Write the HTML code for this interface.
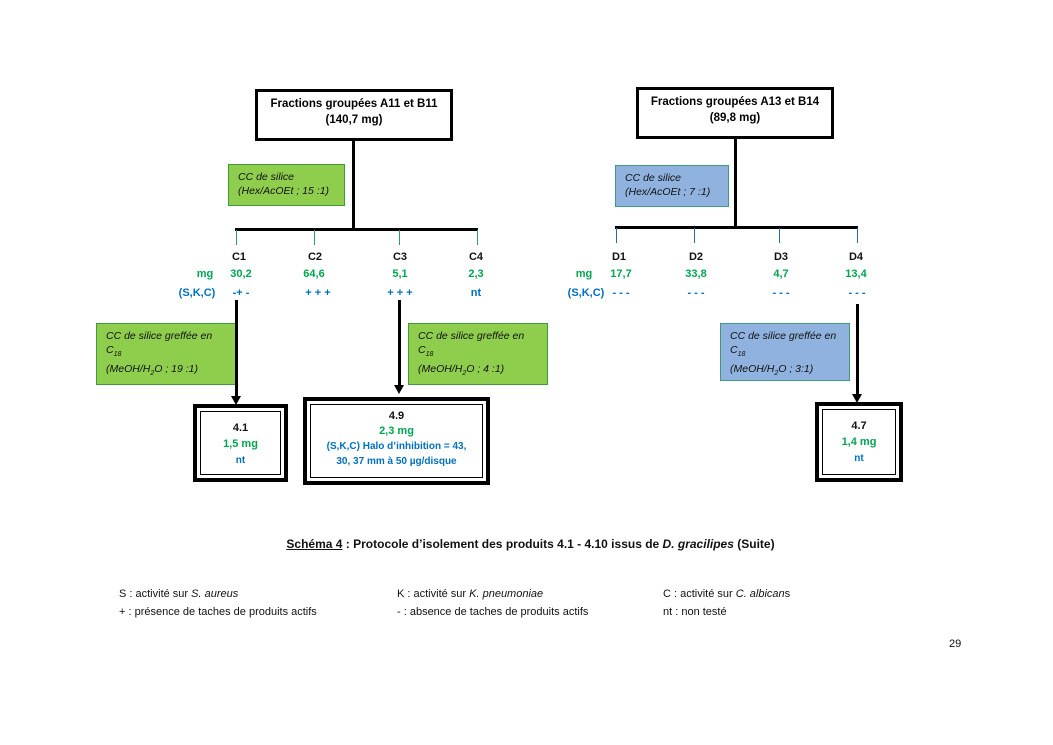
<!DOCTYPE html>
<html><head><meta charset="utf-8"><style>
body{margin:0;width:1053px;height:745px;background:#fff;position:relative;overflow:hidden;font-family:"Liberation Sans",sans-serif;}
div{position:absolute;box-sizing:border-box;}
.c{transform:translateX(-50%);white-space:nowrap;font-weight:bold;font-size:11px;text-align:center;}
.g{color:#00a650}.b{color:#0070c0}.k{color:#111}
.ln{background:#000}
.box{border:3px solid #000;background:#fff;font-weight:bold;font-size:11.5px;text-align:center;line-height:16px;padding-top:4px;}
.gr{background:#8fcd4d;border:1px solid #3e9a3a;font-style:italic;font-size:10.5px;line-height:14px;padding:5px 0 0 9px;color:#111;}
.bl{background:#8fb2de;border:1px solid #3e9a7a;font-style:italic;font-size:10.5px;line-height:14px;padding:5px 0 0 9px;color:#111;}
.dbl{border:4px solid #000;background:#fff;}
.dbl>div{inset:3px;border:1px solid #000;text-align:center;font-weight:bold;font-size:11px;line-height:16px;}
.arr{width:0;height:0;border-left:5px solid transparent;border-right:5px solid transparent;border-top:9px solid #000;}
.tk{width:1px;height:15px;}
sub{font-size:7px}
</style></head><body>
<!-- Left tree -->
<div class="box" style="left:255px;top:89px;width:198px;height:52px;">Fractions groupées A11 et B11<br>(140,7 mg)</div>
<div class="ln" style="left:352px;top:140px;width:3px;height:90px;"></div>
<div class="ln" style="left:235px;top:228px;width:243px;height:3px;"></div>
<div class="tk" style="left:236px;top:230px;background:#2a9a7a"></div>
<div class="tk" style="left:314px;top:230px;background:#2a9a7a"></div>
<div class="tk" style="left:399px;top:230px;background:#2a9a7a"></div>
<div class="tk" style="left:477px;top:230px;background:#2a9a7a"></div>
<div class="gr" style="left:228px;top:164px;width:117px;height:42px;">CC de silice<br>(Hex/AcOEt ; 15 :1)</div>
<div class="c k" style="left:239px;top:251px;">C1</div>
<div class="c k" style="left:315px;top:251px;">C2</div>
<div class="c k" style="left:400px;top:251px;">C3</div>
<div class="c k" style="left:476px;top:251px;">C4</div>
<div class="c g" style="left:205px;top:268px;">mg</div>
<div class="c g" style="left:241px;top:268px;">30,2</div>
<div class="c g" style="left:314px;top:268px;">64,6</div>
<div class="c g" style="left:400px;top:268px;">5,1</div>
<div class="c g" style="left:476px;top:268px;">2,3</div>
<div class="c b" style="left:197px;top:287px;">(S,K,C)</div>
<div class="c b" style="left:241px;top:287px;">-+ -</div>
<div class="c b" style="left:318px;top:287px;">+ + +</div>
<div class="c b" style="left:400px;top:287px;">+ + +</div>
<div class="c b" style="left:476px;top:287px;">nt</div>
<div class="gr" style="left:96px;top:323px;width:140px;height:62px;">CC de silice greffée en<br>C<sub>18</sub><br>(MeOH/H<sub>2</sub>O ; 19 :1)</div>
<div class="ln" style="left:235px;top:300px;width:3px;height:98px;"></div>
<div class="arr" style="left:231px;top:396px;"></div>
<div class="gr" style="left:408px;top:323px;width:140px;height:62px;">CC de silice greffée en<br>C<sub>18</sub><br>(MeOH/H<sub>2</sub>O ; 4 :1)</div>
<div class="ln" style="left:398px;top:300px;width:3px;height:86px;"></div>
<div class="arr" style="left:394px;top:385px;"></div>
<div class="dbl" style="left:193px;top:404px;width:95px;height:78px;"><div style="padding-top:8px"><span class="k">4.1</span><br><span class="g">1,5 mg</span><br><span class="b" style="font-size:10px">nt</span></div></div>
<div class="dbl" style="left:303px;top:397px;width:187px;height:88px;"><div style="padding-top:4px;line-height:15px"><span class="k">4.9</span><br><span class="g">2,3 mg</span><br><span class="b" style="font-size:10px">(S,K,C) Halo d’inhibition = 43,<br>30, 37 mm à 50 µg/disque</span></div></div>
<!-- Right tree -->
<div class="box" style="left:636px;top:87px;width:198px;height:52px;">Fractions groupées A13 et B14<br>(89,8 mg)</div>
<div class="ln" style="left:734px;top:138px;width:3px;height:91px;"></div>
<div class="ln" style="left:615px;top:226px;width:243px;height:3px;"></div>
<div class="tk" style="left:616px;top:228px;background:#2a6ab0"></div>
<div class="tk" style="left:694px;top:228px;background:#2a6ab0"></div>
<div class="tk" style="left:779px;top:228px;background:#2a6ab0"></div>
<div class="tk" style="left:857px;top:228px;background:#2a6ab0"></div>
<div class="bl" style="left:615px;top:165px;width:114px;height:42px;">CC de silice<br>(Hex/AcOEt ; 7 :1)</div>
<div class="c k" style="left:619px;top:251px;">D1</div>
<div class="c k" style="left:696px;top:251px;">D2</div>
<div class="c k" style="left:781px;top:251px;">D3</div>
<div class="c k" style="left:856px;top:251px;">D4</div>
<div class="c g" style="left:584px;top:268px;">mg</div>
<div class="c g" style="left:621px;top:268px;">17,7</div>
<div class="c g" style="left:696px;top:268px;">33,8</div>
<div class="c g" style="left:781px;top:268px;">4,7</div>
<div class="c g" style="left:856px;top:268px;">13,4</div>
<div class="c b" style="left:586px;top:287px;">(S,K,C)</div>
<div class="c b" style="left:621px;top:287px;">- - -</div>
<div class="c b" style="left:696px;top:287px;">- - -</div>
<div class="c b" style="left:781px;top:287px;">- - -</div>
<div class="c b" style="left:857px;top:287px;">- - -</div>
<div class="bl" style="left:720px;top:323px;width:130px;height:58px;">CC de silice greffée en<br>C<sub>18</sub><br>(MeOH/H<sub>2</sub>O ; 3:1)</div>
<div class="ln" style="left:856px;top:304px;width:3px;height:92px;"></div>
<div class="arr" style="left:852px;top:394px;"></div>
<div class="dbl" style="left:815px;top:402px;width:88px;height:80px;"><div style="padding-top:8px"><span class="k">4.7</span><br><span class="g">1,4 mg</span><br><span class="b" style="font-size:10px">nt</span></div></div>
<!-- caption -->
<div style="left:0;width:1053px;top:537px;text-align:center;font-weight:bold;font-size:12px;color:#111;padding-left:8px;"><u>Schéma 4</u> : Protocole d’isolement des produits 4.1 - 4.10 issus de <i>D. gracilipes</i> (Suite)</div>
<div style="left:119px;top:585px;font-size:11px;line-height:18px;color:#111;">S : activité sur <i>S. aureus</i><br>+ : présence de taches de produits actifs</div>
<div style="left:397px;top:585px;font-size:11px;line-height:18px;color:#111;">K : activité sur <i>K. pneumoniae</i><br>- : absence de taches de produits actifs</div>
<div style="left:663px;top:585px;font-size:11px;line-height:18px;color:#111;">C : activité sur <i>C. albican</i>s<br>nt : non testé</div>
<div style="left:949px;top:638px;font-size:11px;color:#111;">29</div>
</body></html>
